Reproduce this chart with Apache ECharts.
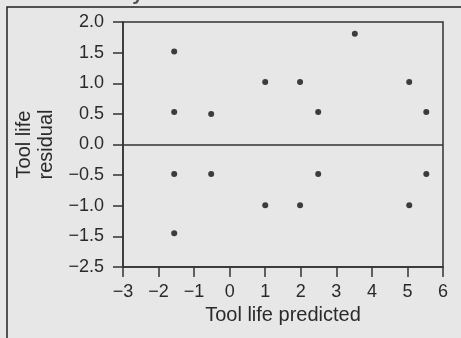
<!DOCTYPE html>
<html>
<head>
<meta charset="utf-8">
<script src="https://cdn.jsdelivr.net/npm/echarts@6/dist/echarts.min.js"></script>
<style>
html,body{margin:0;padding:0;background:#e6e7e6;}
#c{width:461px;height:338px;}
</style>
</head>
<body>
<div id="c"></div>
<script>
// Data
const predicted = [-1.56, -1.56, -0.52, 1.0, 1.98, 3.52, 2.49, 5.05, 5.53, -1.56, -0.52, -1.56, 1.0, 1.98, 5.05, 2.49, 5.53];
const residual  = [1.52, 0.53, 0.50, 1.02, 1.02, 1.81, 0.53, 1.02, 0.53, -0.48, -0.48, -1.45, -0.99, -0.99, -0.99, -0.48, -0.48];
// Y tick labels as printed in the reference (bottom to top)
const yTickLabels = ['\u22122.5', '\u22121.5', '\u22121.0', '\u22120.5', '0.0', '0.5', '1.0', '1.5', '2.0'];
const titleText = 'Residual by Predicted Plot';
const xName = 'Tool life predicted';
const yName = 'Tool life\nresidual';

const points = predicted.map((x, i) => [x, residual[i]]);
const font = 'Liberation Sans, Arial, Helvetica, sans-serif';
const ink = '#2a2a2a';

const chart = echarts.init(document.getElementById('c'), null, {renderer: 'canvas'});
chart.setOption({
  backgroundColor: '#e6e7e6',
  animation: false,
  title: {
    text: titleText,
    left: 26, top: -21,
    textStyle: {fontFamily: font, fontSize: 20, fontWeight: 'bold', color: '#555'}
  },
  graphic: [{
    type: 'rect', silent: true, z: 0,
    shape: {x: 7, y: 7, width: 700, height: 600},
    style: {fill: 'none', stroke: '#222', lineWidth: 1.5}
  }],
  grid: {
    left: 123, top: 22, right: 18, bottom: 71,
    show: true, backgroundColor: 'transparent', borderColor: '#333', borderWidth: 1.5
  },
  xAxis: {
    type: 'value', min: -3, max: 6, interval: 1,
    name: xName, nameLocation: 'middle', nameGap: 35,
    nameTextStyle: {fontFamily: font, fontSize: 20, color: ink},
    axisLine: {onZero: false, lineStyle: {color: '#333', width: 1.5}},
    axisTick: {show: true, length: 10, lineStyle: {color: '#333', width: 1.5}},
    axisLabel: {
      fontFamily: font, fontSize: 18, color: ink, margin: 16,
      formatter: v => v < 0 ? '\u2212' + Math.abs(v) : String(v)
    },
    splitLine: {show: false}
  },
  yAxis: {
    type: 'value', min: -2, max: 2, interval: 0.5,
    name: yName, nameLocation: 'middle', nameGap: 54,
    nameTextStyle: {fontFamily: font, fontSize: 20, color: ink, lineHeight: 22},
    axisLine: {show: true, onZero: false, lineStyle: {color: '#333', width: 1.5}},
    axisTick: {show: true, length: 10, lineStyle: {color: '#333', width: 1.5}},
    axisLabel: {
      fontFamily: font, fontSize: 18, color: ink, margin: 19,
      formatter: (v, i) => yTickLabels[i]
    },
    splitLine: {show: false}
  },
  series: [{
    type: 'scatter',
    data: points,
    symbol: 'circle', symbolSize: 6,
    itemStyle: {color: '#111'},
    markLine: {
      silent: true, symbol: ['none', 'none'],
      label: {show: false},
      lineStyle: {color: '#333', width: 1.5, type: 'solid'},
      data: [{yAxis: 0}]
    }
  }]
});
</script>
</body>
</html>
